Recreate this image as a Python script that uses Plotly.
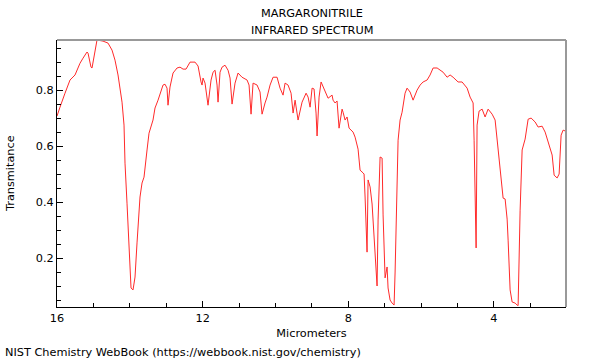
import plotly.graph_objects as go

# Wavelength (micrometers) and transmittance
wavelength_um = [
    16.000, 15.973, 15.918, 15.780, 15.643, 15.505, 15.368, 15.286, 15.176, 15.148,
    15.066, 15.038, 14.984, 14.929, 14.901, 14.736, 14.599, 14.489, 14.407, 14.324,
    14.214, 14.159, 14.132, 14.077, 13.994, 13.967, 13.912, 13.857, 13.802, 13.720,
    13.665, 13.610, 13.527, 13.473, 13.363, 13.308, 13.225, 13.088, 13.033, 12.978,
    12.951, 12.896, 12.813, 12.703, 12.621, 12.538, 12.456, 12.346, 12.209, 12.126,
    12.044, 12.016, 11.989, 11.934, 11.852, 11.769, 11.714, 11.659, 11.604, 11.577,
    11.522, 11.467, 11.385, 11.302, 11.247, 11.192, 11.110, 11.027, 10.918, 10.780,
    10.725, 10.670, 10.615, 10.505, 10.423, 10.368, 10.286, 10.231, 10.148, 10.066,
    9.956, 9.874, 9.791, 9.736, 9.654, 9.571, 9.516, 9.461, 9.379, 9.269,
    9.159, 9.104, 9.049, 8.994, 8.940, 8.885, 8.857, 8.802, 8.747, 8.637,
    8.555, 8.445, 8.418, 8.363, 8.308, 8.253, 8.170, 8.143, 8.088, 8.033,
    7.978, 7.868, 7.813, 7.731, 7.676, 7.593, 7.566, 7.538, 7.484, 7.456,
    7.401, 7.346, 7.319, 7.264, 7.209, 7.181, 7.126, 7.071, 7.044, 6.989,
    6.934, 6.907, 6.852, 6.797, 6.742, 6.714, 6.659, 6.632, 6.577, 6.522,
    6.440, 6.385, 6.302, 6.220, 6.110, 6.027, 5.945, 5.835, 5.753, 5.670,
    5.560, 5.478, 5.396, 5.286, 5.203, 5.121, 4.984, 4.874, 4.736, 4.654,
    4.571, 4.544, 4.516, 4.489, 4.462, 4.407, 4.324, 4.242, 4.159, 4.049,
    3.967, 3.885, 3.775, 3.747, 3.692, 3.637, 3.610, 3.555, 3.500, 3.418,
    3.363, 3.335, 3.280, 3.225, 3.143, 3.060, 2.978, 2.868, 2.786, 2.676,
    2.593, 2.511, 2.401, 2.346, 2.264, 2.209, 2.154, 2.099, 2.044,
]
transmittance = [
    0.707, 0.721, 0.739, 0.789, 0.836, 0.854, 0.896, 0.914, 0.936, 0.932,
    0.882, 0.879, 0.925, 0.971, 0.979, 0.975, 0.968, 0.943, 0.907, 0.854,
    0.757, 0.675, 0.539, 0.396, 0.182, 0.093, 0.086, 0.132, 0.254, 0.418,
    0.468, 0.489, 0.586, 0.646, 0.693, 0.736, 0.764, 0.818, 0.821, 0.807,
    0.746, 0.811, 0.861, 0.879, 0.882, 0.875, 0.875, 0.900, 0.900, 0.886,
    0.829, 0.818, 0.843, 0.825, 0.746, 0.836, 0.864, 0.871, 0.818, 0.757,
    0.864, 0.882, 0.889, 0.871, 0.843, 0.750, 0.825, 0.861, 0.846, 0.836,
    0.818, 0.714, 0.825, 0.818, 0.793, 0.714, 0.754, 0.775, 0.818, 0.846,
    0.846, 0.807, 0.782, 0.825, 0.818, 0.789, 0.718, 0.764, 0.693, 0.757,
    0.789, 0.775, 0.739, 0.807, 0.804, 0.718, 0.636, 0.775, 0.829, 0.796,
    0.771, 0.782, 0.764, 0.754, 0.761, 0.664, 0.732, 0.721, 0.693, 0.704,
    0.664, 0.650, 0.632, 0.589, 0.514, 0.504, 0.500, 0.418, 0.221, 0.479,
    0.454, 0.393, 0.336, 0.182, 0.100, 0.336, 0.561, 0.557, 0.354, 0.129,
    0.168, 0.093, 0.050, 0.039, 0.032, 0.150, 0.407, 0.621, 0.693, 0.721,
    0.789, 0.807, 0.793, 0.764, 0.800, 0.818, 0.829, 0.836, 0.854, 0.879,
    0.879, 0.871, 0.864, 0.846, 0.854, 0.846, 0.829, 0.829, 0.807, 0.775,
    0.754, 0.621, 0.407, 0.236, 0.675, 0.725, 0.732, 0.704, 0.732, 0.714,
    0.693, 0.596, 0.461, 0.414, 0.411, 0.339, 0.264, 0.086, 0.043, 0.039,
    0.032, 0.030, 0.371, 0.586, 0.625, 0.696, 0.700, 0.686, 0.668, 0.671,
    0.650, 0.611, 0.568, 0.496, 0.486, 0.500, 0.639, 0.657, 0.654,
]

x_tick_vals = [16, 12, 8, 4]
x_tick_text = ["16", "12", "8", "4"]
y_tick_vals = [0.2, 0.4, 0.6, 0.8]
y_tick_text = ["0.2", "0.4", "0.6", "0.8"]

FONT = "DejaVu Sans, Liberation Sans, sans-serif"
FS = 11.3
W, H = 600, 360
ML, MR, MT, MB = 57, 34, 40, 53
plot_w = W - ML - MR
plot_h = H - MT - MB

fig = go.Figure()
fig.add_trace(go.Scatter(
    x=wavelength_um, y=transmittance, mode="lines",
    line=dict(color="#ff2a2a", width=1), hoverinfo="skip", showlegend=False,
))

fig.update_layout(
    width=W, height=H,
    margin=dict(l=ML, r=MR, t=MT, b=MB),
    paper_bgcolor="white", plot_bgcolor="white",
    font=dict(family=FONT, size=FS, color="black"),
    xaxis=dict(
        range=[16, 2.02], showgrid=False, zeroline=False,
        showline=True, linecolor="black", linewidth=1,
        tickvals=x_tick_vals, ticktext=x_tick_text,
        ticks="inside", ticklen=6, tickcolor="black",
        minor=dict(dtick=1, tick0=0, ticks="inside", ticklen=4, tickcolor="black"),
        title=dict(text="Micrometers", standoff=5, font=dict(size=FS)),
        tickfont=dict(size=FS),
    ),
    yaxis=dict(
        range=[0.025, 0.979], showgrid=False, zeroline=False,
        showline=True, linecolor="black", linewidth=1,
        tickvals=y_tick_vals, ticktext=y_tick_text,
        ticks="inside", ticklen=6, tickcolor="black",
        minor=dict(dtick=0.05, tick0=0, ticks="inside", ticklen=4, tickcolor="black"),
        tickfont=dict(size=FS),
    ),
    shapes=[
        dict(type="line", xref="paper", yref="paper", x0=0, x1=1, y0=1, y1=1,
             line=dict(color="#999999", width=2)),
        dict(type="line", xref="paper", yref="paper", x0=1, x1=1, y0=0, y1=1,
             line=dict(color="#999999", width=2)),
    ],
    annotations=[
        dict(text="MARGARONITRILE", x=0.5, y=1, xref="paper", yref="paper",
             yshift=27, yanchor="middle", showarrow=False, font=dict(size=FS)),
        dict(text="INFRARED SPECTRUM", x=0.5, y=1, xref="paper", yref="paper",
             yshift=10, yanchor="middle", showarrow=False, font=dict(size=FS)),
        dict(text="Transmitance", textangle=-90,
             x=(10 - ML) / plot_w, y=(307 - 174) / plot_h, xref="paper", yref="paper",
             xanchor="center", yanchor="middle", showarrow=False, font=dict(size=FS)),
        dict(text="NIST Chemistry WebBook (https://webbook.nist.gov/chemistry)",
             x=(3 - ML) / plot_w, y=(307 - 352) / plot_h, xref="paper", yref="paper",
             showarrow=False, font=dict(size=FS), xanchor="left", yanchor="middle"),
    ],
)

fig.write_html("out.html", config={"displayModeBar": False},
               post_script="document.body.style.margin='0';")
